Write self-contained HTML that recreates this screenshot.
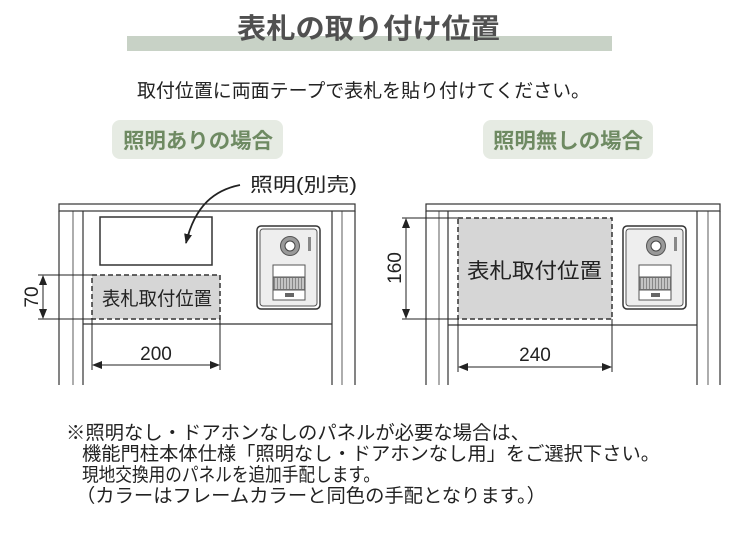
<!DOCTYPE html>
<html><head><meta charset="utf-8"><style>
body{margin:0;background:#fff;width:740px;height:540px;overflow:hidden}
svg{display:block}
text{font-family:"Liberation Sans","Noto Sans CJK JP",sans-serif}
</style></head><body>
<svg width="740" height="540" viewBox="0 0 740 540" xmlns="http://www.w3.org/2000/svg">
<defs>
<g id="ic">
<rect x="0" y="0" width="63" height="83" rx="4" fill="#fff" stroke="#333" stroke-width="1.5"/>
<rect x="3" y="3" width="57" height="77" rx="3" fill="#eee" stroke="#555" stroke-width="1"/>
<circle cx="33" cy="20" r="9.5" fill="#999" stroke="#555"/>
<circle cx="33" cy="20" r="5" fill="#fff" stroke="#444"/>
<rect x="51" y="11" width="3" height="14" fill="#888"/>
<rect x="16" y="39" width="32" height="12" fill="#fff" stroke="#555"/>
<rect x="16" y="51" width="32" height="13" fill="#888" stroke="#555"/>
<g stroke="#fff" stroke-width="1"><line x1="19" y1="52" x2="19" y2="63"/><line x1="22" y1="52" x2="22" y2="63"/><line x1="25" y1="52" x2="25" y2="63"/><line x1="28" y1="52" x2="28" y2="63"/><line x1="31" y1="52" x2="31" y2="63"/><line x1="34" y1="52" x2="34" y2="63"/><line x1="37" y1="52" x2="37" y2="63"/><line x1="40" y1="52" x2="40" y2="63"/><line x1="43" y1="52" x2="43" y2="63"/><line x1="46" y1="52" x2="46" y2="63"/></g>
<rect x="16" y="64" width="32" height="10" fill="#fff" stroke="#555"/>
<rect x="28" y="67" width="9" height="4" fill="#666"/>
</g>
<marker id="ah" markerWidth="10" markerHeight="8" refX="9" refY="4" orient="auto-start-reverse" markerUnits="userSpaceOnUse"><path d="M0,0 L10,4 L0,8 z" fill="#222"/></marker>
</defs>

<!-- title -->
<rect x="127" y="36" width="485" height="15" fill="#c8d2c6"/>
<text x="237" y="38" font-size="28" font-weight="bold" fill="#505050" textLength="263" lengthAdjust="spacingAndGlyphs">表札の取り付け位置</text>
<text x="137" y="97" font-size="19" fill="#222" textLength="453" lengthAdjust="spacingAndGlyphs">取付位置に両面テープで表札を貼り付けてください。</text>

<rect x="112" y="120" width="171" height="39" rx="8" fill="#e6ebe3"/>
<text x="123" y="148" font-size="21" font-weight="bold" fill="#6e8a62" textLength="150" lengthAdjust="spacingAndGlyphs">照明ありの場合</text>
<rect x="483" y="120" width="170" height="39" rx="8" fill="#e6ebe3"/>
<text x="493" y="148" font-size="21" font-weight="bold" fill="#6e8a62" textLength="150" lengthAdjust="spacingAndGlyphs">照明無しの場合</text>

<!-- left panel -->
<g fill="none" stroke="#333" stroke-width="1.2">
<rect x="59" y="204" width="296" height="7" fill="#fff"/>
<line x1="59" y1="211" x2="59" y2="385"/>
<line x1="73" y1="211" x2="73" y2="385" stroke-width="0.8"/>
<line x1="83" y1="211" x2="83" y2="385"/>
<line x1="332" y1="211" x2="332" y2="385"/>
<line x1="342" y1="211" x2="342" y2="385" stroke-width="0.8"/>
<line x1="355" y1="211" x2="355" y2="385"/>
<line x1="83" y1="324" x2="332" y2="324"/>
<rect x="100" y="217" width="112" height="48" stroke-width="1.5"/>
</g>
<rect x="92" y="275" width="128" height="44" fill="#d6d6d6" stroke="#333" stroke-width="1.5" stroke-dasharray="5,3"/>
<text x="102" y="305" font-size="19" fill="#222" textLength="110" lengthAdjust="spacingAndGlyphs">表札取付位置</text>
<use href="#ic" x="257" y="226"/>
<text x="250" y="191" font-size="19" fill="#222" textLength="107" lengthAdjust="spacingAndGlyphs">照明(別売)</text>
<path d="M240,185 C215,190 195,205 186,243" fill="none" stroke="#222" stroke-width="1.8" marker-end="url(#ah)"/>
<g stroke="#222" stroke-width="1">
<line x1="38" y1="275" x2="92" y2="275"/><line x1="38" y1="319" x2="92" y2="319"/>
<line x1="43" y1="276" x2="43" y2="318" marker-start="url(#ah)" marker-end="url(#ah)"/>
<line x1="92" y1="319" x2="92" y2="370"/><line x1="220" y1="319" x2="220" y2="370"/>
<line x1="93" y1="365" x2="219" y2="365" marker-start="url(#ah)" marker-end="url(#ah)"/>
</g>
<text x="156" y="360" font-size="19" fill="#222" text-anchor="middle">200</text>
<text transform="translate(38,297) rotate(-90)" font-size="19" fill="#222" text-anchor="middle">70</text>

<!-- right panel -->
<g fill="none" stroke="#333" stroke-width="1.2">
<rect x="426" y="204" width="294" height="7" fill="#fff"/>
<line x1="426" y1="211" x2="426" y2="385"/>
<line x1="439" y1="211" x2="439" y2="385" stroke-width="0.8"/>
<line x1="448" y1="211" x2="448" y2="385"/>
<line x1="697" y1="211" x2="697" y2="385"/>
<line x1="708" y1="211" x2="708" y2="385" stroke-width="0.8"/>
<line x1="720" y1="211" x2="720" y2="385"/>
<line x1="448" y1="325" x2="697" y2="325"/>
</g>
<rect x="458" y="218" width="154" height="101" fill="#d6d6d6" stroke="#333" stroke-width="1.5" stroke-dasharray="5,3"/>
<text x="467" y="278" font-size="21" fill="#222" textLength="135" lengthAdjust="spacingAndGlyphs">表札取付位置</text>
<use href="#ic" x="623" y="226"/>
<g stroke="#222" stroke-width="1">
<line x1="402" y1="218" x2="458" y2="218"/><line x1="402" y1="319" x2="458" y2="319"/>
<line x1="406" y1="219" x2="406" y2="318" marker-start="url(#ah)" marker-end="url(#ah)"/>
<line x1="458" y1="319" x2="458" y2="372"/><line x1="612" y1="319" x2="612" y2="372"/>
<line x1="459" y1="367" x2="611" y2="367" marker-start="url(#ah)" marker-end="url(#ah)"/>
</g>
<text x="535" y="361" font-size="19" fill="#222" text-anchor="middle">240</text>
<text transform="translate(401,268) rotate(-90)" font-size="19" fill="#222" text-anchor="middle">160</text>

<!-- notes -->
<g font-size="19" fill="#222">
<text x="66" y="439" textLength="464" lengthAdjust="spacingAndGlyphs">※照明なし・ドアホンなしのパネルが必要な場合は、</text>
<text x="82" y="460" textLength="578" lengthAdjust="spacingAndGlyphs">機能門柱本体仕様「照明なし・ドアホンなし用」をご選択下さい。</text>
<text x="82" y="481" textLength="298" lengthAdjust="spacingAndGlyphs">現地交換用のパネルを追加手配します。</text>
<text x="76" y="502" textLength="470" lengthAdjust="spacingAndGlyphs">（カラーはフレームカラーと同色の手配となります。）</text>
</g>
</svg>
</body></html>
